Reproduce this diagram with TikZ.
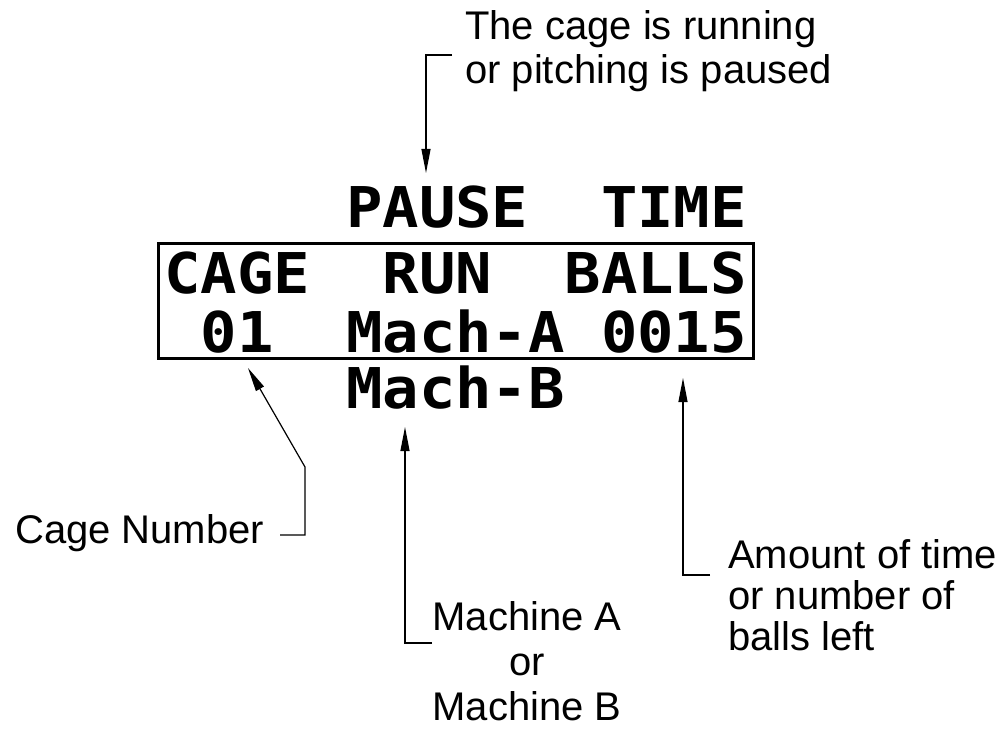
\documentclass[tikz,border=0pt]{standalone}
\usepackage{graphicx}
\usepackage{fontspec}
\setmainfont{Liberation Sans}
\newfontfamily\lcdfont{DejaVu Sans Mono}
\usetikzlibrary{arrows.meta}

% dot-matrix display characters: monospaced, widened to the 36.4 px cell pitch
\newcommand\lcdtext[1]{\scalebox{1.077}[1]{#1}}

\tikzset{
  lcd/.style={inner sep=0pt, anchor=base west,
    font=\lcdfont\bfseries\fontsize{56.2}{56.2}\selectfont},
  note/.style={inner sep=0pt, font=\fontsize{40}{44}\selectfont},
  leader/.style={line width=1.2pt, -{Triangle[length=24pt,width=9pt]}},
  panel/.style={draw, line width=3pt, inner sep=0pt, anchor=north west},
}

\begin{document}
\begin{tikzpicture}[x=1pt, y=-1pt]
  \useasboundingbox (0,0) rectangle (1005,733);

  % display frame
  \node[panel, minimum width=595pt, minimum height=115pt] (frame) at (157,242) {};

  % display rows (cell left = 164 + 36.4 k)
  \node[lcd] (pause) at (346,228)   {\lcdtext{PAUSE}};
  \node[lcd] (time)  at (600.8,228) {\lcdtext{TIME}};

  \node[lcd] (cage)  at (164,293)   {\lcdtext{CAGE}};
  \node[lcd] (run)   at (382.4,293) {\lcdtext{RUN}};
  \node[lcd] (balls) at (564.4,293) {\lcdtext{BALLS}};

  \node[lcd] (num)   at (200.4,352) {\lcdtext{01}};
  \node[lcd] (macha) at (346,352)   {\lcdtext{Mach-A}};
  \node[lcd] (count) at (600.8,352) {\lcdtext{0015}};

  \node[lcd] (machb) at (346,408)   {\lcdtext{Mach-B}};

  % annotations (multi-line nodes are placed by the baseline of their last line)
  \node[note, anchor=base west, align=left] (toptext) at (465,84)
    {The cage is running\\or pitching is paused};
  \node[note, anchor=base west] (cagelbl) at (15,543) {Cage Number};
  \node[note, anchor=base, align=center, font=\fontsize{40}{45}\selectfont]
    (machlbl) at (527,720) {Machine A\\or\\Machine B};
  \node[note, anchor=base west, align=left, font=\fontsize{40}{41}\selectfont]
    (amountlbl) at (728,650) {Amount of time\\or number of\\balls left};

  % leader corners and tips
  \coordinate (topstart) at (452,55);
  \coordinate (topbend)  at (426,55);
  \coordinate (toptip)   at (426,173);

  \coordinate (cagestart) at (280,535);
  \coordinate (cagebendA) at (305,535);
  \coordinate (cagebendB) at (305,467);
  \coordinate (cagetip)   at (248,368);

  \coordinate (machstart) at (432,643);
  \coordinate (machbend)  at (405,643);
  \coordinate (machtip)   at (405,427);

  \coordinate (amtstart) at (710,575);
  \coordinate (amtbend)  at (683,575);
  \coordinate (amttip)   at (683,378);

  % leaders
  \draw[leader] (topstart) -- (topbend) -- (toptip);
  \draw[leader] (cagestart) -- (cagebendA) -- (cagebendB) -- (cagetip);
  \draw[leader] (machstart) -- (machbend) -- (machtip);
  \draw[leader] (amtstart) -- (amtbend) -- (amttip);
\end{tikzpicture}
\end{document}
